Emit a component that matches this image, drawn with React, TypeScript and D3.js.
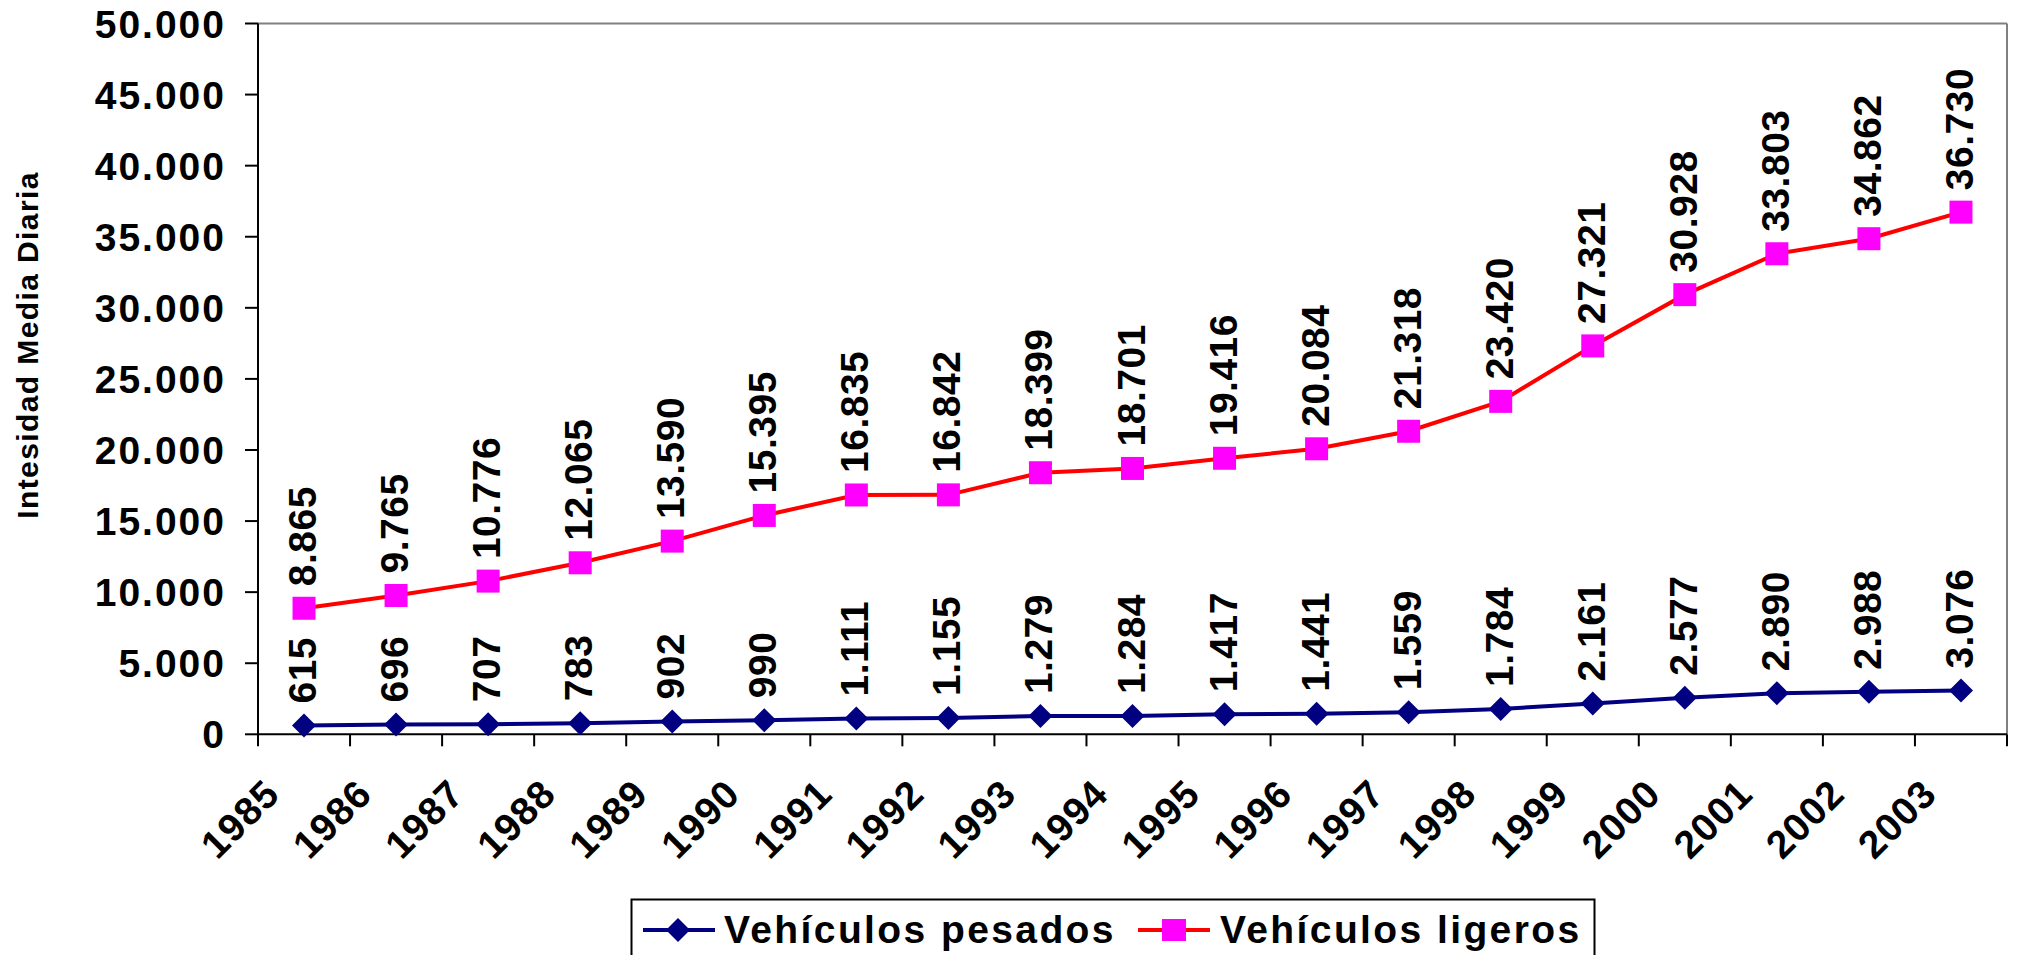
import React from "react";
import * as d3 from "d3";

const years = ["1985","1986","1987","1988","1989","1990","1991","1992","1993","1994","1995","1996","1997","1998","1999","2000","2001","2002","2003"];
const pesados = [615,696,707,783,902,990,1111,1155,1279,1284,1417,1441,1559,1784,2161,2577,2890,2988,3076];
const ligeros = [8865,9765,10776,12065,13590,15395,16835,16842,18399,18701,19416,20084,21318,23420,27321,30928,33803,34862,36730];
const yTicks = [0,5000,10000,15000,20000,25000,30000,35000,40000,45000,50000];
const seriesNames = ["Vehículos pesados","Vehículos ligeros"];
const yTitle = "Intesidad Media Diaria";

const W = 2019, H = 955;
const left = 258, right = 2007, top = 23.5, bottom = 734.3;
const FONT = "'Liberation Sans', Arial, sans-serif";

const loc = d3.formatLocale({ decimal: ",", thousands: ".", grouping: [3], currency: ["", "€"] });
const fmt = loc.format(",d");

export default function App() {
  const x = d3.scaleBand<string>().domain(years).range([left, right]);
  const y = d3.scaleLinear().domain([0, 50000]).range([bottom, top]);
  const cx = (i: number) => (x(years[i]) as number) + x.bandwidth() / 2;
  const line = d3.line<number>().x((_, i) => cx(i)).y((v) => y(v));
  const boundaries = years.map((yr) => x(yr) as number).concat([right]);
  const diamond = (px: number, py: number, r: number) => `M${px},${py - r}L${px + r},${py}L${px},${py + r}L${px - r},${py}Z`;
  const sq = 11.5;

  return (
    <svg width={W} height={H} style={{ position: "absolute", left: 0, top: 0, background: "#fff" }} fontFamily={FONT} fontWeight="bold">
      <line x1={left} x2={right} y1={top} y2={top} stroke="#808080" strokeWidth={2} />
      <line x1={right} x2={right} y1={top} y2={bottom} stroke="#808080" strokeWidth={2} />
      <line x1={left} x2={left} y1={top} y2={bottom} stroke="#000" strokeWidth={2} />
      <line x1={left} x2={right} y1={bottom} y2={bottom} stroke="#000" strokeWidth={2} />
      {yTicks.map((t) => (
        <g key={t}>
          <line x1={left - 13} x2={left} y1={y(t)} y2={y(t)} stroke="#000" strokeWidth={2} />
          <text x={226} y={y(t)} dy="0.36em" textAnchor="end" fontSize={39} letterSpacing={2}>{fmt(t)}</text>
        </g>
      ))}
      {boundaries.map((b, i) => (
        <line key={i} x1={b} x2={b} y1={bottom} y2={bottom + 12} stroke="#000" strokeWidth={2} />
      ))}
      {years.map((yr, i) => (
        <text key={yr} transform={`translate(${cx(i) - 22},${796}) rotate(-45)`} textAnchor="end" fontSize={39} letterSpacing={1.2}>{yr}</text>
      ))}
      <text transform={`translate(38,345) rotate(-90)`} textAnchor="middle" fontSize={30} letterSpacing={1.4}>{yTitle}</text>
      <path d={line(ligeros) as string} fill="none" stroke="#ff0000" strokeWidth={4} />
      <path d={line(pesados) as string} fill="none" stroke="#000080" strokeWidth={4} />
      {ligeros.map((v, i) => (
        <rect key={i} x={cx(i) - sq} y={y(v) - sq} width={sq * 2} height={sq * 2} fill="#ff00ff" />
      ))}
      {pesados.map((v, i) => (
        <path key={i} d={diamond(cx(i), y(v), 12)} fill="#000080" />
      ))}
      {ligeros.map((v, i) => (
        <text key={i} transform={`translate(${cx(i) + 12},${y(v) - 22}) rotate(-90)`} fontSize={39} letterSpacing={0.5}>{fmt(v)}</text>
      ))}
      {pesados.map((v, i) => (
        <text key={i} transform={`translate(${cx(i) + 12},${y(v) - 22}) rotate(-90)`} fontSize={39} letterSpacing={0.5}>{fmt(v)}</text>
      ))}
      <rect x={631.5} y={899.5} width={963} height={80} fill="#fff" stroke="#000" strokeWidth={2} />
      <line x1={643} x2={715} y1={930} y2={930} stroke="#000080" strokeWidth={4} />
      <path d={diamond(678, 930, 12)} fill="#000080" />
      <text x={724} y={943} fontSize={39} letterSpacing={2.4}>{seriesNames[0]}</text>
      <line x1={1138} x2={1210} y1={930} y2={930} stroke="#ff0000" strokeWidth={4} />
      <rect x={1162} y={919} width={24} height={22} fill="#ff00ff" />
      <text x={1220} y={943} fontSize={39} letterSpacing={2.4}>{seriesNames[1]}</text>
    </svg>
  );
}
